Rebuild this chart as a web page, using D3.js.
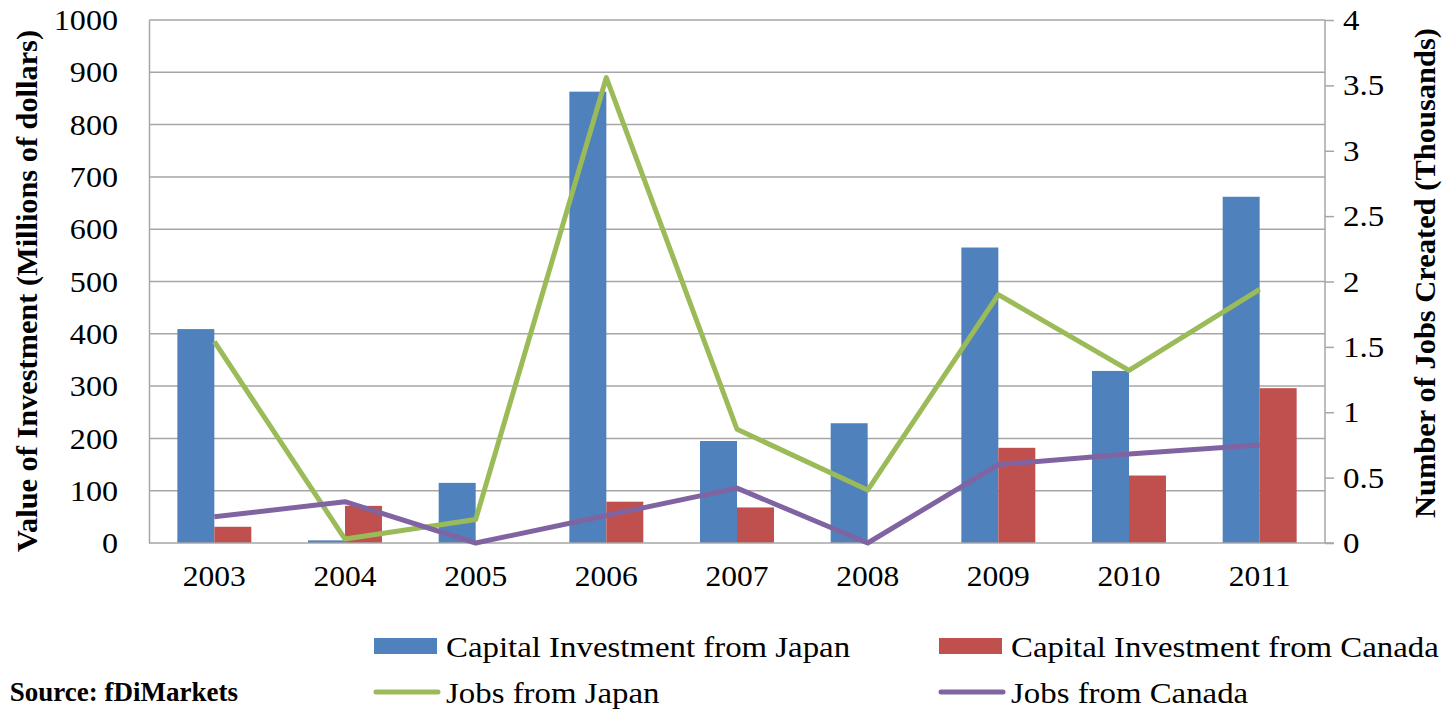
<!DOCTYPE html>
<html>
<head>
<meta charset="utf-8">
<script src="https://cdn.jsdelivr.net/npm/d3@7"></script>
<style>
  body { margin: 0; background: #fff; }
  svg text { font-family: "Liberation Serif", "DejaVu Serif", serif !important; }
</style>
</head>
<body>
<svg id="chart" width="1447" height="709"></svg>
<script>
// data
const years = ["2003", "2004", "2005", "2006", "2007", "2008", "2009", "2010", "2011"];
const investJapan = [409, 5, 115, 863, 195, 229, 565, 329, 662];
const investCanada = [31, 71, 0, 79, 68, 0, 182, 129, 296];
const jobsJapan = [1.54, 0.03, 0.18, 3.56, 0.87, 0.405, 1.9, 1.32, 1.94];
const jobsCanada = [0.2, 0.316, 0, 0.21, 0.42, 0, 0.6, 0.68, 0.75];
const leftTicks = [0, 100, 200, 300, 400, 500, 600, 700, 800, 900, 1000];
const rightTicks = [0, 0.5, 1, 1.5, 2, 2.5, 3, 3.5, 4];

const colors = { japanBar: "#4F81BD", canadaBar: "#C0504D", japanLine: "#9BBB59", canadaLine: "#8064A2" };

const m = { left: 149, right: 1325, top: 20, bottom: 543 };
const svg = d3.select("#chart");

// widen text a bit, the reference font runs wider than ours
function stretch(sel, k) {
  sel.each(function() {
    const w = this.getComputedTextLength();
    d3.select(this).attr("textLength", w * k).attr("lengthAdjust", "spacingAndGlyphs");
  });
}

const x0 = d3.scaleBand().domain(years).range([m.left, m.right]).paddingInner(0.434).paddingOuter(0.217);
const x1 = d3.scaleBand().domain(["japan", "canada"]).range([0, x0.bandwidth()]);
const xc = d => x0(d) + x0.bandwidth() / 2;
const yL = d3.scaleLinear().domain([0, 1000]).range([m.bottom, m.top]);
const yR = d3.scaleLinear().domain([0, 4]).range([m.bottom, m.top]);

// gridlines
svg.append("g")
  .selectAll("line")
  .data(leftTicks.slice(1))
  .enter().append("line")
  .attr("x1", m.left).attr("x2", m.right)
  .attr("y1", d => yL(d)).attr("y2", d => yL(d))
  .attr("stroke", "#a6a6a6").attr("stroke-width", 1.5);

// left axis
const gl = svg.append("g")
  .attr("transform", `translate(${m.left},0)`)
  .call(d3.axisLeft(yL).tickValues(leftTicks).tickSize(0).tickPadding(31).tickFormat(d3.format("d")));
gl.select(".domain").attr("stroke", "#a6a6a6").attr("stroke-width", 1.5);
gl.selectAll("text").style("font-size", "30px").attr("fill", "#000").call(stretch, 1.07);

// right axis
const gr = svg.append("g")
  .attr("transform", `translate(${m.right},0)`)
  .call(d3.axisRight(yR).tickValues(rightTicks).tickSize(9).tickPadding(9).tickFormat(d3.format("")));
gr.select(".domain").attr("stroke", "#a6a6a6").attr("stroke-width", 1.5).attr("d", `M0,${m.top}V${m.bottom}`);
gr.selectAll("line").attr("stroke", "#a6a6a6").attr("stroke-width", 1.5);
gr.selectAll("text").style("font-size", "30px").attr("fill", "#000").call(stretch, 1.1);

// bars
const groups = svg.append("g")
  .selectAll("g")
  .data(years)
  .enter().append("g")
  .attr("transform", d => `translate(${x0(d)},0)`);

groups.append("rect")
  .attr("x", x1("japan")).attr("width", x1.bandwidth())
  .attr("y", (d, i) => yL(investJapan[i]))
  .attr("height", (d, i) => m.bottom - yL(investJapan[i]))
  .attr("fill", colors.japanBar);

groups.append("rect")
  .attr("x", x1("canada")).attr("width", x1.bandwidth())
  .attr("y", (d, i) => yL(investCanada[i]))
  .attr("height", (d, i) => m.bottom - yL(investCanada[i]))
  .attr("fill", colors.canadaBar);

// bottom axis
const gb = svg.append("g")
  .attr("transform", `translate(0,${m.bottom})`)
  .call(d3.axisBottom(x0).tickSize(0).tickPadding(22));
gb.select(".domain").attr("stroke", "#a6a6a6").attr("stroke-width", 1.5).attr("d", `M${m.left},0H${m.right + 9}`);
gb.selectAll("text").style("font-size", "30px").attr("fill", "#000").call(stretch, 1.05);

// lines
const line = d3.line().x((d, i) => xc(years[i])).y(d => yR(d));
svg.append("path").datum(jobsJapan)
  .attr("d", line).attr("fill", "none")
  .attr("stroke", colors.japanLine).attr("stroke-width", 5).attr("stroke-linejoin", "round");
svg.append("path").datum(jobsCanada)
  .attr("d", line).attr("fill", "none")
  .attr("stroke", colors.canadaLine).attr("stroke-width", 5).attr("stroke-linejoin", "round");

// axis titles (condensed bold, like the reference)
svg.append("text")
  .attr("transform", "translate(37,291) rotate(-90)")
  .attr("text-anchor", "middle")
  .attr("textLength", 522).attr("lengthAdjust", "spacingAndGlyphs")
  .style("font-size", "29px").style("font-weight", "bold")
  .text("Value of Investment (Millions of dollars)");

svg.append("text")
  .attr("transform", "translate(1435,273) rotate(-90)")
  .attr("text-anchor", "middle")
  .attr("textLength", 490).attr("lengthAdjust", "spacingAndGlyphs")
  .style("font-size", "29px").style("font-weight", "bold")
  .text("Number of Jobs Created (Thousands)");

// legend
const legendItems = [
  { label: "Capital Investment from Japan", color: colors.japanBar, type: "rect", x: 374, y: 646 },
  { label: "Capital Investment from Canada", color: colors.canadaBar, type: "rect", x: 939, y: 646 },
  { label: "Jobs from Japan", color: colors.japanLine, type: "line", x: 374, y: 692 },
  { label: "Jobs from Canada", color: colors.canadaLine, type: "line", x: 939, y: 692 }
];
const lg = svg.append("g").selectAll("g")
  .data(legendItems)
  .enter().append("g")
  .attr("transform", d => `translate(${d.x},${d.y})`);
lg.filter(d => d.type === "rect").append("rect")
  .attr("x", 0).attr("y", -8).attr("width", 63).attr("height", 16)
  .attr("fill", d => d.color);
lg.filter(d => d.type === "line").append("line")
  .attr("x1", 2).attr("x2", 64).attr("y1", 0).attr("y2", 0)
  .attr("stroke", d => d.color).attr("stroke-width", 5).attr("stroke-linecap", "round");
lg.append("text")
  .attr("x", 72).attr("dy", "0.35em")
  .style("font-size", "30px")
  .text(d => d.label)
  .call(stretch, 1.095);

// source note, cut at the left edge like the reference
svg.append("text")
  .attr("x", 238).attr("y", 692).attr("dy", "0.35em")
  .attr("text-anchor", "end")
  .style("font-size", "27px").style("font-weight", "bold")
  .text("Source: fDiMarkets");
</script>
</body>
</html>
